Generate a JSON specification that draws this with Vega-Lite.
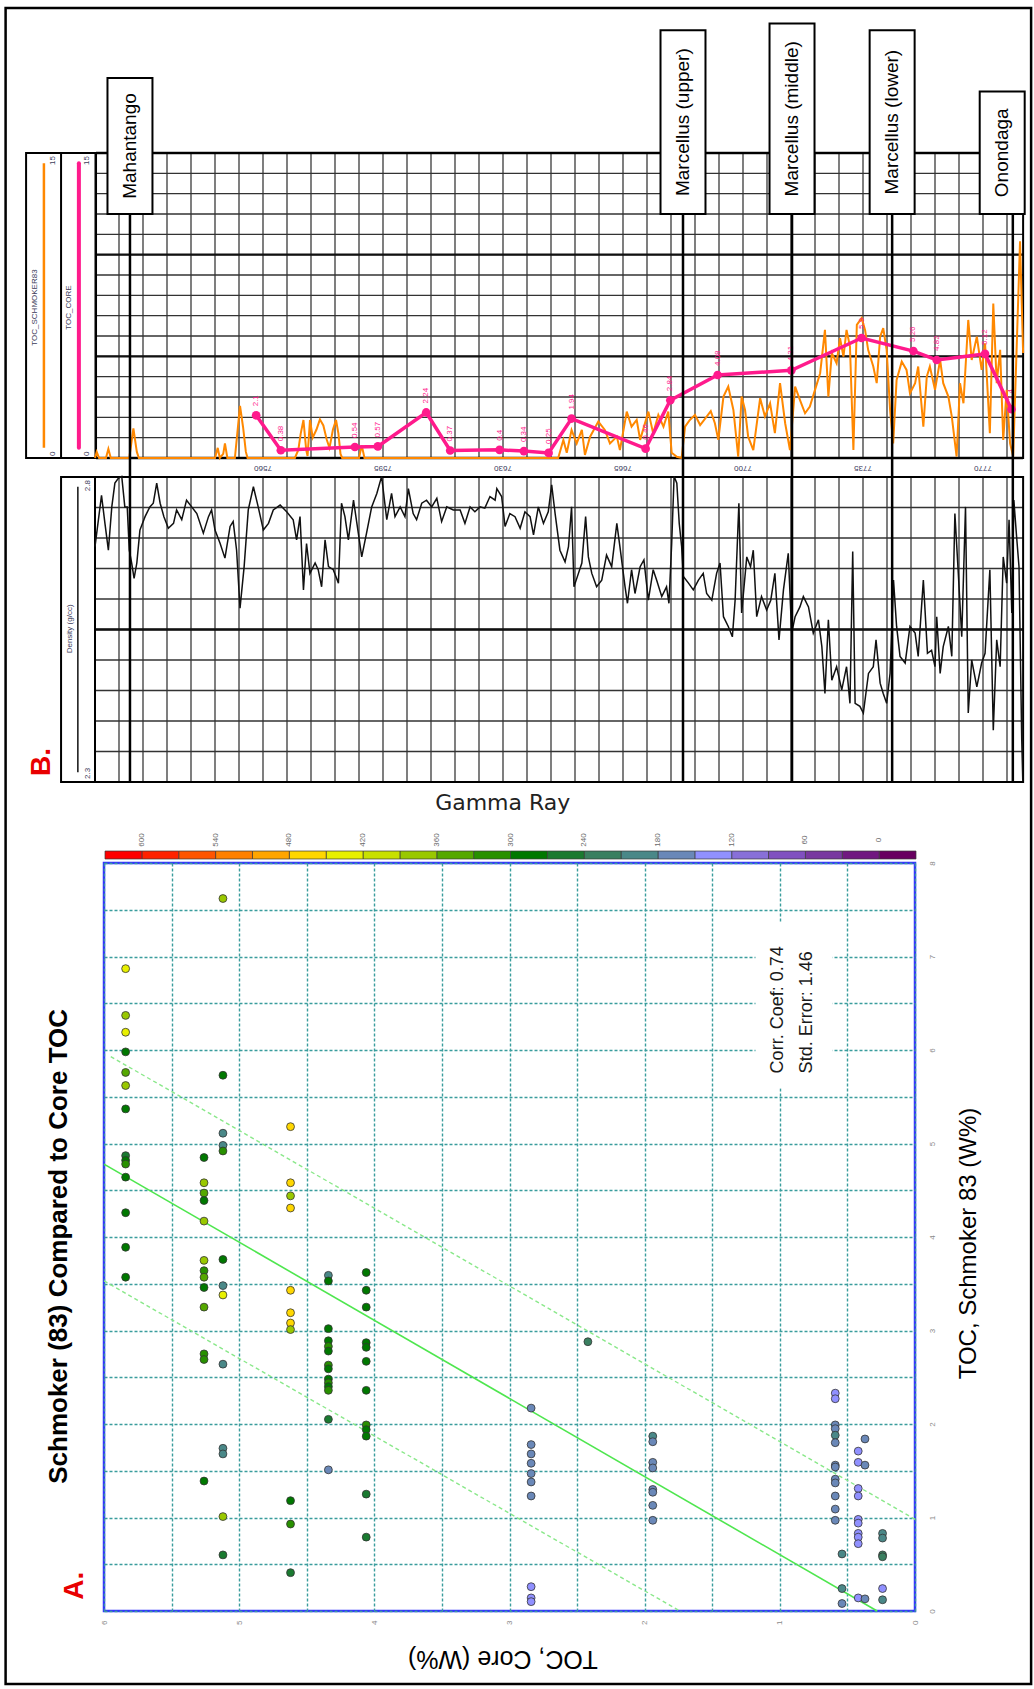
{
"$schema":"https://vega.github.io/schema/vega-lite/v6.json",
"width":811,"height":748,
"autosize":{"type":"none"},
"padding":{"left":104,"top":863,"right":119,"bottom":78},
"background":"white",
"config":{"font":"Liberation Sans","view":{"stroke":"#3434ff","strokeWidth":2.5}},
"datasets":{
"pts":[
{"core":5.12,"sch":7.62,"gr":375},{"core":5.84,"sch":6.87,"gr":435},{"core":5.84,"sch":6.37,"gr":375},{"core":5.84,"sch":6.19,"gr":435},{"core":5.84,"sch":5.98,"gr":285},{"core":5.84,"sch":5.76,"gr":345},{"core":5.84,"sch":5.62,"gr":375},{"core":5.12,"sch":5.73,"gr":285},{"core":5.84,"sch":5.37,"gr":285},{"core":4.62,"sch":5.18,"gr":465},{"core":5.12,"sch":5.11,"gr":195},{"core":5.12,"sch":4.98,"gr":195},{"core":5.12,"sch":4.92,"gr":315},{"core":5.84,"sch":4.87,"gr":255},{"core":5.84,"sch":4.82,"gr":285},{"core":5.84,"sch":4.78,"gr":315},{"core":5.26,"sch":4.85,"gr":285},{"core":5.84,"sch":4.64,"gr":285},{"core":5.26,"sch":4.58,"gr":375},{"core":5.26,"sch":4.47,"gr":345},{"core":5.26,"sch":4.39,"gr":285},{"core":4.62,"sch":4.58,"gr":465},{"core":4.62,"sch":4.44,"gr":375},{"core":4.62,"sch":4.31,"gr":465},{"core":5.84,"sch":4.26,"gr":285},{"core":5.26,"sch":4.17,"gr":375},{"core":5.84,"sch":3.89,"gr":285},
{"core":5.84,"sch":3.57,"gr":285},{"core":5.26,"sch":3.75,"gr":375},{"core":5.26,"sch":3.64,"gr":315},{"core":5.26,"sch":3.57,"gr":345},{"core":5.26,"sch":3.46,"gr":285},{"core":5.26,"sch":3.25,"gr":345},{"core":5.12,"sch":3.76,"gr":285},{"core":5.12,"sch":3.48,"gr":195},{"core":5.12,"sch":3.38,"gr":435},{"core":5.26,"sch":2.75,"gr":315},{"core":5.26,"sch":2.69,"gr":315},{"core":5.12,"sch":2.64,"gr":195},{"core":5.12,"sch":1.74,"gr":195},{"core":5.12,"sch":1.68,"gr":195},{"core":5.26,"sch":1.39,"gr":285},{"core":5.12,"sch":1.01,"gr":375},{"core":5.12,"sch":0.6,"gr":255},
{"core":4.62,"sch":3.43,"gr":465},{"core":4.62,"sch":3.19,"gr":465},{"core":4.62,"sch":3.08,"gr":465},{"core":4.62,"sch":3.01,"gr":375},{"core":4.62,"sch":1.18,"gr":285},{"core":4.62,"sch":0.93,"gr":315},{"core":4.62,"sch":0.41,"gr":255},
{"core":4.34,"sch":3.59,"gr":195},{"core":4.34,"sch":3.53,"gr":285},{"core":4.34,"sch":3.02,"gr":285},{"core":4.34,"sch":2.89,"gr":285},{"core":4.34,"sch":2.83,"gr":315},{"core":4.34,"sch":2.78,"gr":285},{"core":4.34,"sch":2.63,"gr":315},{"core":4.34,"sch":2.59,"gr":285},{"core":4.34,"sch":2.48,"gr":285},{"core":4.34,"sch":2.44,"gr":315},{"core":4.34,"sch":2.4,"gr":285},{"core":4.34,"sch":2.36,"gr":315},{"core":4.34,"sch":2.05,"gr":255},{"core":4.34,"sch":1.51,"gr":165},
{"core":4.06,"sch":3.62,"gr":285},{"core":4.06,"sch":3.43,"gr":285},{"core":4.06,"sch":3.25,"gr":285},{"core":4.06,"sch":2.87,"gr":285},{"core":4.06,"sch":2.82,"gr":285},{"core":4.06,"sch":2.67,"gr":285},{"core":4.06,"sch":2.36,"gr":285},{"core":4.06,"sch":1.99,"gr":315},{"core":4.06,"sch":1.94,"gr":285},{"core":4.06,"sch":1.87,"gr":285},{"core":4.06,"sch":1.25,"gr":255},{"core":4.06,"sch":0.79,"gr":255},
{"core":2.84,"sch":2.17,"gr":165},{"core":2.84,"sch":1.78,"gr":165},{"core":2.84,"sch":1.68,"gr":165},{"core":2.84,"sch":1.58,"gr":165},{"core":2.84,"sch":1.47,"gr":165},{"core":2.84,"sch":1.38,"gr":165},{"core":2.84,"sch":1.23,"gr":165},{"core":2.84,"sch":0.26,"gr":135},{"core":2.84,"sch":0.14,"gr":135},{"core":2.84,"sch":0.1,"gr":135},
{"core":2.42,"sch":2.88,"gr":225},{"core":1.94,"sch":1.87,"gr":195},{"core":1.94,"sch":1.81,"gr":165},{"core":1.94,"sch":1.59,"gr":165},{"core":1.94,"sch":1.53,"gr":165},{"core":1.94,"sch":1.3,"gr":165},{"core":1.94,"sch":1.27,"gr":165},{"core":1.94,"sch":1.13,"gr":165},{"core":1.94,"sch":0.97,"gr":165},
{"core":0.59,"sch":2.33,"gr":135},{"core":0.59,"sch":2.27,"gr":135},{"core":0.59,"sch":1.99,"gr":165},{"core":0.59,"sch":1.95,"gr":165},{"core":0.59,"sch":1.88,"gr":195},{"core":0.59,"sch":1.8,"gr":165},{"core":0.59,"sch":1.56,"gr":165},{"core":0.59,"sch":1.54,"gr":165},{"core":0.59,"sch":1.41,"gr":165},{"core":0.59,"sch":1.37,"gr":165},{"core":0.59,"sch":1.23,"gr":165},{"core":0.59,"sch":1.09,"gr":165},{"core":0.59,"sch":0.97,"gr":165},
{"core":0.54,"sch":0.61,"gr":195},{"core":0.54,"sch":0.24,"gr":195},{"core":0.54,"sch":0.08,"gr":165},{"core":0.42,"sch":1.71,"gr":135},{"core":0.42,"sch":1.59,"gr":135},{"core":0.37,"sch":1.84,"gr":165},{"core":0.37,"sch":1.56,"gr":165},{"core":0.42,"sch":1.31,"gr":135},{"core":0.42,"sch":1.23,"gr":135},{"core":0.42,"sch":0.98,"gr":135},{"core":0.42,"sch":0.94,"gr":135},{"core":0.42,"sch":0.83,"gr":135},{"core":0.42,"sch":0.79,"gr":135},{"core":0.42,"sch":0.72,"gr":135},{"core":0.42,"sch":0.14,"gr":135},{"core":0.37,"sch":0.13,"gr":165},
{"core":0.24,"sch":0.83,"gr":195},{"core":0.24,"sch":0.78,"gr":195},{"core":0.24,"sch":0.6,"gr":225},{"core":0.24,"sch":0.58,"gr":225},{"core":0.24,"sch":0.24,"gr":135},{"core":0.24,"sch":0.12,"gr":195}
],
"fit":[{"kind":"fit","core":0.28,"sch":0},{"kind":"fit","core":6,"sch":4.78},{"kind":"upper","core":0,"sch":0.98},{"kind":"upper","core":5.95,"sch":5.93},{"kind":"lower","core":1.74,"sch":0},{"kind":"lower","core":6,"sch":3.53}],
"cells":[{"lo":-30,"hi":0},{"lo":0,"hi":30},{"lo":30,"hi":60},{"lo":60,"hi":90},{"lo":90,"hi":120},{"lo":120,"hi":150},{"lo":150,"hi":180},{"lo":180,"hi":210},{"lo":210,"hi":240},{"lo":240,"hi":270},{"lo":270,"hi":300},{"lo":300,"hi":330},{"lo":330,"hi":360},{"lo":360,"hi":390},{"lo":390,"hi":420},{"lo":420,"hi":450},{"lo":450,"hi":480},{"lo":480,"hi":510},{"lo":510,"hi":540},{"lo":540,"hi":570},{"lo":570,"hi":600},{"lo":600,"hi":630}],
"schm":[
{"depth":7511.0,"toc":0},{"depth":7511.5,"toc":0.3},{"depth":7512.2,"toc":0},{"depth":7514.2,"toc":0},{"depth":7514.9,"toc":0.45},{"depth":7515.6,"toc":0},{"depth":7521.0,"toc":0},{"depth":7522.2,"toc":1.46},{"depth":7523.2,"toc":0.3},{"depth":7523.8,"toc":0},{"depth":7546.0,"toc":0},{"depth":7546.8,"toc":0.5},{"depth":7547.4,"toc":0},{"depth":7548.4,"toc":0.2},{"depth":7548.9,"toc":0.72},{"depth":7549.6,"toc":0},{"depth":7551.8,"toc":0},{"depth":7552.5,"toc":1.2},{"depth":7553.3,"toc":2.56},{"depth":7554.2,"toc":1.5},{"depth":7555.0,"toc":0.3},{"depth":7555.5,"toc":0},{"depth":7569.3,"toc":0},{"depth":7570.3,"toc":0.4},{"depth":7571.0,"toc":1.2},{"depth":7571.8,"toc":1.87},{"depth":7572.6,"toc":0.4},{"depth":7573.0,"toc":0.1},{"depth":7573.7,"toc":1.87},{"depth":7574.5,"toc":1.0},{"depth":7575.6,"toc":1.4},{"depth":7576.6,"toc":1.9},{"depth":7577.6,"toc":1.6},{"depth":7578.6,"toc":0.9},{"depth":7579.4,"toc":0.5},{"depth":7580.4,"toc":1.4},{"depth":7581.3,"toc":1.87},{"depth":7582.0,"toc":1.2},{"depth":7582.6,"toc":0.2},{"depth":7583.1,"toc":0},{"depth":7588.0,"toc":0},{"depth":7588.8,"toc":0.62},{"depth":7589.6,"toc":0},
{"depth":7646.1,"toc":0},{"depth":7647.6,"toc":0.89},{"depth":7648.6,"toc":0.26},{"depth":7650.0,"toc":1.38},{"depth":7651.5,"toc":0.72},{"depth":7653.0,"toc":1.38},{"depth":7653.9,"toc":0.15},{"depth":7655.4,"toc":1.05},{"depth":7657.8,"toc":1.79},{"depth":7659.7,"toc":1.38},{"depth":7661.2,"toc":0.72},{"depth":7663.2,"toc":1.05},{"depth":7664.1,"toc":0.39},{"depth":7666.1,"toc":2.28},{"depth":7667.5,"toc":1.54},{"depth":7669.0,"toc":1.87},{"depth":7670.0,"toc":0.89},{"depth":7672.4,"toc":2.28},{"depth":7673.8,"toc":1.21},{"depth":7675.3,"toc":2.12},{"depth":7676.8,"toc":1.54},{"depth":7678.2,"toc":2.28},{"depth":7679.2,"toc":0.26},{"depth":7680.7,"toc":0.06},{"depth":7682.1,"toc":0},{"depth":7683.1,"toc":1.54},{"depth":7684.5,"toc":1.87},{"depth":7686.0,"toc":2.12},{"depth":7687.5,"toc":1.62},{"depth":7689.4,"toc":2.03},{"depth":7690.6,"toc":2.3},{"depth":7691.8,"toc":1.71},{"depth":7692.8,"toc":0.89},{"depth":7694.3,"toc":3.02},{"depth":7695.7,"toc":3.51},{"depth":7697.2,"toc":2.36},{"depth":7698.6,"toc":0.07},{"depth":7699.6,"toc":3.02},{"depth":7700.6,"toc":2.36},{"depth":7701.5,"toc":1.05},{"depth":7703.0,"toc":0.39},{"depth":7705.0,"toc":2.94},{"depth":7706.4,"toc":2.04},{"depth":7707.9,"toc":2.69},{"depth":7709.3,"toc":1.22},{"depth":7710.8,"toc":3.68},{"depth":7712.3,"toc":1.71},{"depth":7713.7,"toc":0.39},{"depth":7715.2,"toc":3.51},{"depth":7716.6,"toc":2.86},{"depth":7718.1,"toc":2.2},{"depth":7719.5,"toc":2.53},{"depth":7721.0,"toc":3.35},{"depth":7722.5,"toc":4.17},{"depth":7723.9,"toc":6.3},{"depth":7724.9,"toc":3.02},{"depth":7725.9,"toc":5.16},{"depth":7727.3,"toc":4.66},{"depth":7728.3,"toc":5.89},{"depth":7729.3,"toc":4.99},{"depth":7730.2,"toc":6.3},{"depth":7731.2,"toc":5.48},{"depth":7732.2,"toc":0.39},{"depth":7733.2,"toc":6.55},{"depth":7734.6,"toc":6.88},{"depth":7735.6,"toc":6.3},{"depth":7736.5,"toc":5.32},{"depth":7738.0,"toc":4.5},{"depth":7739.0,"toc":3.68},{"depth":7740.0,"toc":5.97},{"depth":7740.9,"toc":6.39},{"depth":7741.9,"toc":5.32},{"depth":7742.9,"toc":2.36},{"depth":7743.8,"toc":0.72},{"depth":7744.8,"toc":3.84},{"depth":7746.3,"toc":4.74},{"depth":7747.7,"toc":4.33},{"depth":7748.7,"toc":3.18},{"depth":7750.2,"toc":3.68},{"depth":7751.1,"toc":4.5},{"depth":7752.6,"toc":1.54},{"depth":7753.6,"toc":4.0},{"depth":7754.5,"toc":4.5},{"depth":7756.0,"toc":3.35},{"depth":7757.5,"toc":4.82},{"depth":7758.4,"toc":3.68},{"depth":7759.9,"toc":3.02},{"depth":7760.9,"toc":2.04},{"depth":7762.3,"toc":0.07},{"depth":7763.3,"toc":3.68},{"depth":7764.3,"toc":2.69},{"depth":7765.7,"toc":6.79},{"depth":7766.7,"toc":4.82},{"depth":7768.2,"toc":5.97},{"depth":7769.6,"toc":4.33},{"depth":7770.6,"toc":5.64},{"depth":7772.0,"toc":1.22},{"depth":7773.0,"toc":7.6},{"depth":7774.0,"toc":3.68},{"depth":7775.0,"toc":5.32},{"depth":7775.9,"toc":0.89},{"depth":7776.9,"toc":3.35},{"depth":7777.9,"toc":0.72},{"depth":7778.8,"toc":0.07},{"depth":7779.8,"toc":5.32},{"depth":7780.8,"toc":10.66},{"depth":7781.7,"toc":5.16}
],
"core":[{"depth":7558.0,"toc":2.1},{"depth":7565.2,"toc":0.38},{"depth":7586.8,"toc":0.54},{"depth":7593.5,"toc":0.57},{"depth":7607.6,"toc":2.24},{"depth":7614.6,"toc":0.37},{"depth":7629.0,"toc":0.4},{"depth":7636.1,"toc":0.34},{"depth":7643.3,"toc":0.25},{"depth":7650.0,"toc":1.94},{"depth":7671.6,"toc":0.46},{"depth":7678.8,"toc":2.84},{"depth":7692.6,"toc":4.08},{"depth":7714.1,"toc":4.31},{"depth":7734.6,"toc":5.9},{"depth":7749.7,"toc":5.26},{"depth":7756.5,"toc":4.82},{"depth":7770.6,"toc":5.12},{"depth":7778.3,"toc":2.4}],
"dens":[
{"depth":7511.0,"rho":2.686},{"depth":7512.0,"rho":2.73},{"depth":7512.9,"rho":2.77},{"depth":7513.9,"rho":2.724},{"depth":7514.9,"rho":2.68},{"depth":7515.9,"rho":2.751},{"depth":7516.8,"rho":2.79},{"depth":7517.8,"rho":2.798},{"depth":7518.8,"rho":2.801},{"depth":7519.7,"rho":2.751},{"depth":7520.4,"rho":2.751},{"depth":7521.0,"rho":2.68},{"depth":7521.7,"rho":2.659},{"depth":7522.4,"rho":2.634},{"depth":7523.2,"rho":2.659},{"depth":7524.1,"rho":2.713},{"depth":7525.6,"rho":2.735},{"depth":7527.0,"rho":2.751},{"depth":7528.0,"rho":2.757},{"depth":7529.0,"rho":2.79},{"depth":7530.0,"rho":2.757},{"depth":7531.1,"rho":2.735},{"depth":7532.4,"rho":2.716},{"depth":7533.9,"rho":2.724},{"depth":7534.8,"rho":2.746},{"depth":7536.3,"rho":2.73},{"depth":7537.7,"rho":2.762},{"depth":7539.2,"rho":2.751},{"depth":7540.7,"rho":2.74},{"depth":7542.6,"rho":2.708},{"depth":7544.1,"rho":2.735},{"depth":7545.0,"rho":2.746},{"depth":7546.0,"rho":2.713},{"depth":7547.5,"rho":2.691},{"depth":7548.9,"rho":2.667},{"depth":7550.4,"rho":2.719},{"depth":7551.3,"rho":2.727},{"depth":7552.3,"rho":2.68},{"depth":7553.3,"rho":2.585},{"depth":7554.5,"rho":2.653},{"depth":7555.7,"rho":2.746},{"depth":7557.2,"rho":2.784},{"depth":7558.6,"rho":2.751},{"depth":7560.1,"rho":2.713},{"depth":7561.6,"rho":2.724},{"depth":7563.0,"rho":2.746},{"depth":7565.0,"rho":2.754},{"depth":7566.9,"rho":2.743},{"depth":7568.8,"rho":2.73},{"depth":7569.8,"rho":2.697},{"depth":7570.8,"rho":2.735},{"depth":7571.8,"rho":2.615},{"depth":7572.7,"rho":2.691},{"depth":7573.7,"rho":2.642},{"depth":7575.2,"rho":2.659},{"depth":7576.1,"rho":2.648},{"depth":7577.1,"rho":2.62},{"depth":7578.1,"rho":2.697},{"depth":7579.1,"rho":2.653},{"depth":7580.5,"rho":2.648},{"depth":7582.0,"rho":2.626},{"depth":7582.9,"rho":2.757},{"depth":7583.9,"rho":2.735},{"depth":7584.9,"rho":2.697},{"depth":7586.4,"rho":2.762},{"depth":7587.8,"rho":2.708},{"depth":7588.8,"rho":2.669},{"depth":7590.2,"rho":2.708},{"depth":7591.7,"rho":2.751},{"depth":7593.2,"rho":2.773},{"depth":7594.6,"rho":2.801},{"depth":7596.1,"rho":2.73},{"depth":7597.5,"rho":2.773},{"depth":7598.5,"rho":2.735},{"depth":7600.0,"rho":2.751},{"depth":7601.4,"rho":2.735},{"depth":7602.4,"rho":2.781},{"depth":7603.8,"rho":2.74},{"depth":7604.8,"rho":2.73},{"depth":7606.3,"rho":2.757},{"depth":7607.7,"rho":2.762},{"depth":7609.2,"rho":2.751},{"depth":7610.7,"rho":2.765},{"depth":7612.1,"rho":2.727},{"depth":7613.6,"rho":2.751},{"depth":7615.5,"rho":2.746},{"depth":7617.5,"rho":2.746},{"depth":7618.9,"rho":2.724},{"depth":7620.4,"rho":2.751},{"depth":7621.8,"rho":2.743},{"depth":7623.3,"rho":2.751},{"depth":7624.7,"rho":2.749},{"depth":7626.2,"rho":2.768},{"depth":7627.7,"rho":2.762},{"depth":7628.2,"rho":2.781},{"depth":7629.6,"rho":2.768},{"depth":7630.6,"rho":2.719},{"depth":7632.0,"rho":2.74},{"depth":7633.5,"rho":2.735},{"depth":7635.0,"rho":2.716},{"depth":7636.4,"rho":2.743},{"depth":7637.9,"rho":2.735},{"depth":7638.9,"rho":2.705},{"depth":7640.3,"rho":2.751},{"depth":7641.8,"rho":2.724},{"depth":7643.2,"rho":2.743},{"depth":7644.2,"rho":2.787},{"depth":7645.2,"rho":2.74},
{"depth":7646.6,"rho":2.68},{"depth":7648.1,"rho":2.661},{"depth":7649.1,"rho":2.686},{"depth":7650.0,"rho":2.751},{"depth":7650.7,"rho":2.62},{"depth":7652.0,"rho":2.642},{"depth":7653.0,"rho":2.659},{"depth":7654.1,"rho":2.735},{"depth":7654.9,"rho":2.669},{"depth":7655.9,"rho":2.642},{"depth":7657.3,"rho":2.62},{"depth":7658.8,"rho":2.631},{"depth":7660.2,"rho":2.672},{"depth":7661.7,"rho":2.653},{"depth":7663.2,"rho":2.724},{"depth":7664.1,"rho":2.686},{"depth":7665.6,"rho":2.62},{"depth":7666.3,"rho":2.593},{"depth":7667.5,"rho":2.648},{"depth":7668.5,"rho":2.609},{"depth":7670.0,"rho":2.653},{"depth":7671.1,"rho":2.664},{"depth":7672.4,"rho":2.598},{"depth":7673.8,"rho":2.648},{"depth":7674.8,"rho":2.631},{"depth":7676.3,"rho":2.604},{"depth":7677.7,"rho":2.62},{"depth":7678.4,"rho":2.593},{"depth":7679.2,"rho":2.691},{"depth":7679.9,"rho":2.801},{"depth":7680.7,"rho":2.79},{"depth":7681.4,"rho":2.724},{"depth":7682.1,"rho":2.686},{"depth":7682.6,"rho":2.637},{"depth":7684.1,"rho":2.626},{"depth":7685.5,"rho":2.615},{"depth":7687.0,"rho":2.631},{"depth":7688.4,"rho":2.642},{"depth":7689.4,"rho":2.609},{"depth":7690.9,"rho":2.598},{"depth":7692.3,"rho":2.642},{"depth":7693.3,"rho":2.659},{"depth":7694.3,"rho":2.571},{"depth":7695.7,"rho":2.555},{"depth":7696.9,"rho":2.538},{"depth":7697.7,"rho":2.598},{"depth":7698.8,"rho":2.757},{"depth":7699.6,"rho":2.577},{"depth":7701.1,"rho":2.669},{"depth":7702.2,"rho":2.653},{"depth":7703.0,"rho":2.68},{"depth":7704.0,"rho":2.571},{"depth":7705.4,"rho":2.604},{"depth":7706.9,"rho":2.582},{"depth":7708.1,"rho":2.598},{"depth":7709.3,"rho":2.642},{"depth":7710.5,"rho":2.533},{"depth":7711.8,"rho":2.615},{"depth":7713.2,"rho":2.675},{"depth":7714.2,"rho":2.544},{"depth":7715.2,"rho":2.571},{"depth":7716.6,"rho":2.587},{"depth":7717.6,"rho":2.604},{"depth":7719.1,"rho":2.587},{"depth":7720.5,"rho":2.544},{"depth":7722.0,"rho":2.566},{"depth":7723.0,"rho":2.522},{"depth":7723.9,"rho":2.445},{"depth":7724.9,"rho":2.566},{"depth":7725.9,"rho":2.467},{"depth":7727.3,"rho":2.489},{"depth":7728.8,"rho":2.451},{"depth":7730.2,"rho":2.489},{"depth":7731.2,"rho":2.429},{"depth":7732.0,"rho":2.678},{"depth":7732.7,"rho":2.429},{"depth":7734.1,"rho":2.424},{"depth":7735.1,"rho":2.413},{"depth":7736.6,"rho":2.478},{"depth":7738.0,"rho":2.489},{"depth":7738.8,"rho":2.533},{"depth":7740.0,"rho":2.462},{"depth":7740.9,"rho":2.445},{"depth":7741.9,"rho":2.429},{"depth":7742.9,"rho":2.478},{"depth":7743.9,"rho":2.631},{"depth":7744.8,"rho":2.555},{"depth":7745.8,"rho":2.506},{"depth":7747.3,"rho":2.495},{"depth":7748.7,"rho":2.555},{"depth":7750.2,"rho":2.544},{"depth":7751.1,"rho":2.506},{"depth":7752.6,"rho":2.631},{"depth":7753.8,"rho":2.511},{"depth":7755.0,"rho":2.516},{"depth":7756.0,"rho":2.489},{"depth":7756.5,"rho":2.571},{"depth":7757.5,"rho":2.478},{"depth":7758.4,"rho":2.522},{"depth":7759.9,"rho":2.555},{"depth":7760.9,"rho":2.506},{"depth":7761.8,"rho":2.74},{"depth":7762.8,"rho":2.642},{"depth":7763.8,"rho":2.538},{"depth":7764.9,"rho":2.751},{"depth":7765.7,"rho":2.413},{"depth":7766.7,"rho":2.5},{"depth":7768.2,"rho":2.456},{"depth":7769.6,"rho":2.495},{"depth":7770.6,"rho":2.511},{"depth":7772.0,"rho":2.648},{"depth":7773.0,"rho":2.385},{"depth":7774.0,"rho":2.533},{"depth":7775.0,"rho":2.489},{"depth":7775.9,"rho":2.669},{"depth":7776.9,"rho":2.626},{"depth":7777.6,"rho":2.73},{"depth":7778.4,"rho":2.577},{"depth":7779.0,"rho":2.762},{"depth":7779.8,"rho":2.702},{"depth":7780.5,"rho":2.653},{"depth":7781.3,"rho":2.369},{"depth":7781.6,"rho":2.303}
],
"tops":[{"name":"Mahantango","depth":7521.2},{"name":"Marcellus (upper)","depth":7682.5},{"name":"Marcellus (middle)","depth":7714.3},{"name":"Marcellus (lower)","depth":7743.5},{"name":"Onondaga","depth":7778.7}],
"dgrid":[{"d":7511},{"d":7518},{"d":7525},{"d":7532},{"d":7539},{"d":7546},{"d":7553},{"d":7560},{"d":7567},{"d":7574},{"d":7581},{"d":7588},{"d":7595},{"d":7602},{"d":7609},{"d":7616},{"d":7623},{"d":7630},{"d":7637},{"d":7644},{"d":7651},{"d":7658},{"d":7665},{"d":7672},{"d":7679},{"d":7686},{"d":7693},{"d":7700},{"d":7707},{"d":7714},{"d":7721},{"d":7728},{"d":7735},{"d":7742},{"d":7749},{"d":7756},{"d":7763},{"d":7770},{"d":7777}],
"tgrid":[{"v":0},{"v":1},{"v":2},{"v":3},{"v":4},{"v":5},{"v":6},{"v":7},{"v":8},{"v":9},{"v":10},{"v":11},{"v":12},{"v":13},{"v":14},{"v":15}],
"rgrid":[{"v":2.3},{"v":2.35},{"v":2.4},{"v":2.45},{"v":2.5},{"v":2.55},{"v":2.6},{"v":2.65},{"v":2.7},{"v":2.75},{"v":2.8}]
},
"resolve":{"scale":{"x":"independent","y":"independent","color":"independent"}},
"layer":[
 {"data":{"values":[{"a":1.18,"b":0.61,"c":7.37,"e":5.59}]},"mark":{"type":"rect","fill":"white"},"encoding":{"x":{"field":"a","type":"quantitative","scale":{"domain":[0,6],"range":[811,0],"nice":false},"axis":null},"x2":{"field":"b"},"y":{"field":"c","type":"quantitative","scale":{"domain":[0,8],"range":[748,0],"nice":false},"axis":null},"y2":{"field":"e"}}},
 {"data":{"name":"fit"},"transform":[{"filter":"datum.kind !== 'fit'"}],"mark":{"type":"line","stroke":"#8ae88a","strokeWidth":1.4,"strokeDash":[4,3]},"encoding":{"x":{"field":"core","type":"quantitative","scale":{"domain":[0,6],"range":[811,0],"nice":false},"axis":null},"y":{"field":"sch","type":"quantitative","scale":{"domain":[0,8],"range":[748,0],"nice":false},"axis":null},"detail":{"field":"kind","type":"nominal"}}},
 {"data":{"name":"fit"},"transform":[{"filter":"datum.kind === 'fit'"}],"mark":{"type":"line","stroke":"#4fe64f","strokeWidth":1.6},"encoding":{"x":{"field":"core","type":"quantitative","scale":{"domain":[0,6],"range":[811,0],"nice":false},"axis":null},"y":{"field":"sch","type":"quantitative","scale":{"domain":[0,8],"range":[748,0],"nice":false},"axis":null}}},
 {"data":{"name":"pts"},"mark":{"type":"circle","size":62,"opacity":1,"stroke":"#333333","strokeWidth":0.8},"encoding":{
   "x":{"field":"core","type":"quantitative","scale":{"domain":[0,6],"range":[811,0],"nice":false},"axis":{"orient":"bottom","values":[0,0.5,1,1.5,2,2.5,3,3.5,4,4.5,5,5.5,6],"grid":true,"gridColor":"#3a9d9d","gridDash":[3,2],"gridWidth":1.4,"ticks":false,"domain":false,"labelExpr":"datum.value % 1 === 0 ? format(datum.value, 'd') : ''","labelAngle":270,"labelFontSize":8,"labelColor":"#8a8a8a","labelPadding":9,"title":null}},
   "y":{"field":"sch","type":"quantitative","scale":{"domain":[0,8],"range":[748,0],"nice":false},"axis":{"orient":"right","values":[0,0.5,1,1.5,2,2.5,3,3.5,4,4.5,5,5.5,6,6.5,7,7.5,8],"grid":true,"gridColor":"#3a9d9d","gridDash":[3,2],"gridWidth":1.4,"ticks":false,"domain":false,"labelExpr":"datum.value % 1 === 0 ? format(datum.value, 'd') : ''","labelAngle":270,"labelFontSize":8,"labelColor":"#8a8a8a","labelPadding":13,"title":null}},
   "color":{"field":"gr","type":"quantitative","scale":{"type":"threshold","domain":[0,30,60,90,120,150,180,210,240,270,300,330,360,390,420,450,480,510,540,570,600],"range":["#680060","#701880","#7838a0","#8050c0","#8870d8","#9090ff","#6a88b8","#4a8888","#3a7f60","#1a7a30","#007800","#289000","#55a800","#99c800","#c8e000","#e8f000","#ffd700","#ffa500","#ff8000","#ff5500","#ff2200","#ff0000"]},"legend":null}}},
 {"data":{"values":[{"a":1.01,"c":5.75}]},"mark":{"type":"text","text":"Corr. Coef:  0.74","angle":270,"align":"left","baseline":"middle","fontSize":18,"fill":"#1a1a1a"},"encoding":{"x":{"field":"a","type":"quantitative","scale":{"domain":[0,6],"range":[811,0],"nice":false},"axis":null},"y":{"field":"c","type":"quantitative","scale":{"domain":[0,8],"range":[748,0],"nice":false},"axis":null}}},
 {"data":{"values":[{"a":0.8,"c":5.75}]},"mark":{"type":"text","text":"Std. Error:  1.46","angle":270,"align":"left","baseline":"middle","fontSize":18,"fill":"#1a1a1a"},"encoding":{"x":{"field":"a","type":"quantitative","scale":{"domain":[0,6],"range":[811,0],"nice":false},"axis":null},"y":{"field":"c","type":"quantitative","scale":{"domain":[0,8],"range":[748,0],"nice":false},"axis":null}}},
 {"data":{"values":[{"a":6.336,"c":3.9}]},"mark":{"type":"text","text":"Schmoker (83) Compared to Core TOC","angle":270,"align":"center","baseline":"middle","fontSize":26,"fontWeight":"bold","fill":"#000000"},"encoding":{"x":{"field":"a","type":"quantitative","scale":{"domain":[0,6],"range":[811,0],"nice":false},"axis":null},"y":{"field":"c","type":"quantitative","scale":{"domain":[0,8],"range":[748,0],"nice":false},"axis":null}}},
 {"data":{"values":[{"a":6.218,"c":0.27}]},"mark":{"type":"text","text":"A.","angle":270,"align":"center","baseline":"middle","fontSize":28,"fontWeight":"bold","fill":"#e80000"},"encoding":{"x":{"field":"a","type":"quantitative","scale":{"domain":[0,6],"range":[811,0],"nice":false},"axis":null},"y":{"field":"c","type":"quantitative","scale":{"domain":[0,8],"range":[748,0],"nice":false},"axis":null}}},
 {"data":{"values":[{"a":6.455,"c":9.08}]},"mark":{"type":"text","text":"B.","angle":270,"align":"center","baseline":"middle","fontSize":28,"fontWeight":"bold","fill":"#e80000"},"encoding":{"x":{"field":"a","type":"quantitative","scale":{"domain":[0,6],"range":[811,0],"nice":false},"axis":null},"y":{"field":"c","type":"quantitative","scale":{"domain":[0,8],"range":[748,0],"nice":false},"axis":null}}},
 {"data":{"values":[{"a":3.05,"c":8.642}]},"mark":{"type":"text","text":"Gamma Ray","align":"center","baseline":"middle","fontSize":22,"font":"DejaVu Sans","fill":"#222222"},"encoding":{"x":{"field":"a","type":"quantitative","scale":{"domain":[0,6],"range":[811,0],"nice":false},"axis":null},"y":{"field":"c","type":"quantitative","scale":{"domain":[0,8],"range":[748,0],"nice":false},"axis":null}}},
 {"data":{"values":[{"a":-0.4,"c":3.93}]},"mark":{"type":"text","text":"TOC, Schmoker 83 (W%)","angle":270,"align":"center","baseline":"middle","fontSize":24,"fill":"#000000"},"encoding":{"x":{"field":"a","type":"quantitative","scale":{"domain":[0,6],"range":[811,0],"nice":false},"axis":null},"y":{"field":"c","type":"quantitative","scale":{"domain":[0,8],"range":[748,0],"nice":false},"axis":null}}},
 {"data":{"values":[{"a":3.05,"c":-0.513}]},"mark":{"type":"text","text":"TOC, Core (W%)","angle":180,"align":"center","baseline":"middle","fontSize":25,"fill":"#000000"},"encoding":{"x":{"field":"a","type":"quantitative","scale":{"domain":[0,6],"range":[811,0],"nice":false},"axis":null},"y":{"field":"c","type":"quantitative","scale":{"domain":[0,8],"range":[748,0],"nice":false},"axis":null}}},
 {"data":{"values":[{"a":6.728,"b":-0.859,"c":17.144,"e":-0.781}]},"mark":{"type":"rect","fill":"white","fillOpacity":0,"stroke":"#000000","strokeWidth":2.5},"encoding":{"x":{"field":"a","type":"quantitative","scale":{"domain":[0,6],"range":[811,0],"nice":false},"axis":null},"x2":{"field":"b"},"y":{"field":"c","type":"quantitative","scale":{"domain":[0,8],"range":[748,0],"nice":false},"axis":null},"y2":{"field":"e"}}},
 {"data":{"name":"cells"},"transform":[{"calculate":"8.043","as":"b0"},{"calculate":"8.128","as":"b1"}],"mark":{"type":"rect","stroke":"#3a3a3a","strokeWidth":0.7},"encoding":{"x":{"field":"lo","type":"quantitative","scale":{"domain":[-30,630],"range":[812,1],"nice":false},"axis":null},"x2":{"field":"hi"},"y":{"field":"b0","type":"quantitative","scale":{"domain":[0,8],"range":[748,0],"nice":false},"axis":null},"y2":{"field":"b1"},"color":{"field":"lo","type":"quantitative","scale":{"type":"threshold","domain":[0,30,60,90,120,150,180,210,240,270,300,330,360,390,420,450,480,510,540,570,600],"range":["#680060","#701880","#7838a0","#8050c0","#8870d8","#9090ff","#6a88b8","#4a8888","#3a7f60","#1a7a30","#007800","#289000","#55a800","#99c800","#c8e000","#e8f000","#ffd700","#ffa500","#ff8000","#ff5500","#ff2200","#ff0000"]},"legend":null}}},
 {"data":{"name":"cells"},"transform":[{"filter":"datum.lo >= 0 && datum.lo % 60 === 0"},{"calculate":"8.246","as":"ly"}],"mark":{"type":"text","angle":270,"align":"center","baseline":"middle","fontSize":8,"fill":"#6a6a6a"},"encoding":{"x":{"field":"lo","type":"quantitative","scale":{"domain":[-30,630],"range":[812,1],"nice":false},"axis":null},"y":{"field":"ly","type":"quantitative","scale":{"domain":[0,8],"range":[748,0],"nice":false},"axis":null},"text":{"field":"lo","type":"quantitative"}}},
 {"data":{"name":"dgrid"},"transform":[{"calculate":"0","as":"y0"},{"calculate":"15","as":"y1"}],"mark":{"type":"rule","stroke":"#3a3a3a","strokeWidth":1.3},"encoding":{"x":{"field":"d","type":"quantitative","scale":{"domain":[7560,7770],"range":[159,879],"nice":false},"axis":null},"y":{"field":"y0","type":"quantitative","scale":{"domain":[0,15],"range":[-405,-710],"nice":false},"axis":null},"y2":{"field":"y1"}}},
 {"data":{"name":"tgrid"},"transform":[{"calculate":"7511.3","as":"x0"},{"calculate":"7781.7","as":"x1"}],"mark":{"type":"rule","stroke":"#333333","strokeWidth":1.3},"encoding":{"y":{"field":"v","type":"quantitative","scale":{"domain":[0,15],"range":[-405,-710],"nice":false},"axis":null},"x":{"field":"x0","type":"quantitative","scale":{"domain":[7560,7770],"range":[159,879],"nice":false},"axis":null},"x2":{"field":"x1"}}},
 {"data":{"name":"tgrid"},"transform":[{"filter":"datum.v % 5 === 0"},{"calculate":"7511.3","as":"x0"},{"calculate":"7781.7","as":"x1"}],"mark":{"type":"rule","stroke":"#111111","strokeWidth":2.4},"encoding":{"y":{"field":"v","type":"quantitative","scale":{"domain":[0,15],"range":[-405,-710],"nice":false},"axis":null},"x":{"field":"x0","type":"quantitative","scale":{"domain":[7560,7770],"range":[159,879],"nice":false},"axis":null},"x2":{"field":"x1"}}},
 {"data":{"values":[{"a":7490.9,"b":7781.7,"c":0,"e":15}]},"mark":{"type":"rect","fill":"white","fillOpacity":0,"stroke":"#000000","strokeWidth":2},"encoding":{"x":{"field":"a","type":"quantitative","scale":{"domain":[7560,7770],"range":[159,879],"nice":false},"axis":null},"x2":{"field":"b"},"y":{"field":"c","type":"quantitative","scale":{"domain":[0,15],"range":[-405,-710],"nice":false},"axis":null},"y2":{"field":"e"}}},
 {"data":{"values":[{"a":7501.1,"c":0,"e":15},{"a":7511.3,"c":0,"e":15}]},"mark":{"type":"rule","stroke":"#000000","strokeWidth":2},"encoding":{"x":{"field":"a","type":"quantitative","scale":{"domain":[7560,7770],"range":[159,879],"nice":false},"axis":null},"y":{"field":"c","type":"quantitative","scale":{"domain":[0,15],"range":[-405,-710],"nice":false},"axis":null},"y2":{"field":"e"}}},
 {"data":{"values":[{"a":7496.1,"c":0.5,"e":14.5}]},"mark":{"type":"rule","stroke":"#ff8800","strokeWidth":2.5},"encoding":{"x":{"field":"a","type":"quantitative","scale":{"domain":[7560,7770],"range":[159,879],"nice":false},"axis":null},"y":{"field":"c","type":"quantitative","scale":{"domain":[0,15],"range":[-405,-710],"nice":false},"axis":null},"y2":{"field":"e"}}},
 {"data":{"values":[{"a":7506.3,"c":0.5,"e":14.5}]},"mark":{"type":"rule","stroke":"#ff1a8c","strokeWidth":4,"strokeCap":"round"},"encoding":{"x":{"field":"a","type":"quantitative","scale":{"domain":[7560,7770],"range":[159,879],"nice":false},"axis":null},"y":{"field":"c","type":"quantitative","scale":{"domain":[0,15],"range":[-405,-710],"nice":false},"axis":null},"y2":{"field":"e"}}},
 {"data":{"values":[{"a":7493.5,"c":7.4,"t":"TOC_SCHMOKER83"},{"a":7503.4,"c":7.4,"t":"TOC_CORE"}]},"mark":{"type":"text","angle":270,"align":"center","baseline":"middle","fontSize":8,"fill":"#3c3c5a"},"encoding":{"x":{"field":"a","type":"quantitative","scale":{"domain":[7560,7770],"range":[159,879],"nice":false},"axis":null},"y":{"field":"c","type":"quantitative","scale":{"domain":[0,15],"range":[-405,-710],"nice":false},"axis":null},"text":{"field":"t","type":"nominal"}}},
 {"data":{"values":[{"a":7498.75,"v":15},{"a":7508.7,"v":15}]},"mark":{"type":"text","angle":270,"align":"right","baseline":"middle","fontSize":8,"fill":"#3c3c5a","dx":-3},"encoding":{"x":{"field":"a","type":"quantitative","scale":{"domain":[7560,7770],"range":[159,879],"nice":false},"axis":null},"y":{"field":"v","type":"quantitative","scale":{"domain":[0,15],"range":[-405,-710],"nice":false},"axis":null},"text":{"field":"v","type":"quantitative"}}},
 {"data":{"values":[{"a":7498.75,"v":0},{"a":7508.7,"v":0}]},"mark":{"type":"text","angle":270,"align":"left","baseline":"middle","fontSize":8,"fill":"#3c3c5a","dx":2},"encoding":{"x":{"field":"a","type":"quantitative","scale":{"domain":[7560,7770],"range":[159,879],"nice":false},"axis":null},"y":{"field":"v","type":"quantitative","scale":{"domain":[0,15],"range":[-405,-710],"nice":false},"axis":null},"text":{"field":"v","type":"quantitative"}}},
 {"data":{"name":"schm"},"mark":{"type":"line","stroke":"#ff8800","strokeWidth":2},"encoding":{"x":{"field":"depth","type":"quantitative","scale":{"domain":[7560,7770],"range":[159,879],"nice":false},"axis":null},"y":{"field":"toc","type":"quantitative","scale":{"domain":[0,15],"range":[-405,-710],"nice":false},"axis":null}}},
 {"data":{"name":"core"},"mark":{"type":"line","stroke":"#ff1a8c","strokeWidth":3.5},"encoding":{"x":{"field":"depth","type":"quantitative","scale":{"domain":[7560,7770],"range":[159,879],"nice":false},"axis":null},"y":{"field":"toc","type":"quantitative","scale":{"domain":[0,15],"range":[-405,-710],"nice":false},"axis":null}}},
 {"data":{"name":"core"},"mark":{"type":"circle","size":75,"opacity":1,"fill":"#ff1a8c"},"encoding":{"x":{"field":"depth","type":"quantitative","scale":{"domain":[7560,7770],"range":[159,879],"nice":false},"axis":null},"y":{"field":"toc","type":"quantitative","scale":{"domain":[0,15],"range":[-405,-710],"nice":false},"axis":null}}},
 {"data":{"name":"core"},"mark":{"type":"text","angle":270,"align":"left","baseline":"middle","dx":9,"fontSize":8,"fill":"#ff1a8c"},"encoding":{"x":{"field":"depth","type":"quantitative","scale":{"domain":[7560,7770],"range":[159,879],"nice":false},"axis":null},"y":{"field":"toc","type":"quantitative","scale":{"domain":[0,15],"range":[-405,-710],"nice":false},"axis":null},"text":{"field":"toc","type":"quantitative"}}},
 {"data":{"name":"dgrid"},"transform":[{"filter":"datum.d >= 7560 && (datum.d - 7560) % 35 === 0"},{"calculate":"-0.49","as":"ly"}],"mark":{"type":"text","angle":180,"align":"center","baseline":"middle","fontSize":8,"fill":"#3b3b5c"},"encoding":{"x":{"field":"d","type":"quantitative","scale":{"domain":[7560,7770],"range":[159,879],"nice":false},"axis":null},"y":{"field":"ly","type":"quantitative","scale":{"domain":[0,15],"range":[-405,-710],"nice":false},"axis":null},"text":{"field":"d","type":"quantitative","format":"d"}}},
 {"data":{"name":"dgrid"},"transform":[{"calculate":"2.3","as":"y0"},{"calculate":"2.8","as":"y1"}],"mark":{"type":"rule","stroke":"#3a3a3a","strokeWidth":1.3},"encoding":{"x":{"field":"d","type":"quantitative","scale":{"domain":[7560,7770],"range":[159,879],"nice":false},"axis":null},"y":{"field":"y0","type":"quantitative","scale":{"domain":[2.3,2.8],"range":[-81,-386],"nice":false},"axis":null},"y2":{"field":"y1"}}},
 {"data":{"name":"rgrid"},"transform":[{"calculate":"7511.0","as":"x0"},{"calculate":"7781.7","as":"x1"}],"mark":{"type":"rule","stroke":"#333333","strokeWidth":1.3},"encoding":{"y":{"field":"v","type":"quantitative","scale":{"domain":[2.3,2.8],"range":[-81,-386],"nice":false},"axis":null},"x":{"field":"x0","type":"quantitative","scale":{"domain":[7560,7770],"range":[159,879],"nice":false},"axis":null},"x2":{"field":"x1"}}},
 {"data":{"name":"rgrid"},"transform":[{"filter":"abs(datum.v - 2.55) < 0.001"},{"calculate":"7511.0","as":"x0"},{"calculate":"7781.7","as":"x1"}],"mark":{"type":"rule","stroke":"#111111","strokeWidth":2.4},"encoding":{"y":{"field":"v","type":"quantitative","scale":{"domain":[2.3,2.8],"range":[-81,-386],"nice":false},"axis":null},"x":{"field":"x0","type":"quantitative","scale":{"domain":[7560,7770],"range":[159,879],"nice":false},"axis":null},"x2":{"field":"x1"}}},
 {"data":{"values":[{"a":7501.1,"b":7781.7,"c":2.3,"e":2.8}]},"mark":{"type":"rect","fill":"white","fillOpacity":0,"stroke":"#000000","strokeWidth":2},"encoding":{"x":{"field":"a","type":"quantitative","scale":{"domain":[7560,7770],"range":[159,879],"nice":false},"axis":null},"x2":{"field":"b"},"y":{"field":"c","type":"quantitative","scale":{"domain":[2.3,2.8],"range":[-81,-386],"nice":false},"axis":null},"y2":{"field":"e"}}},
 {"data":{"values":[{"a":7511.0,"c":2.3,"e":2.8}]},"mark":{"type":"rule","stroke":"#000000","strokeWidth":2},"encoding":{"x":{"field":"a","type":"quantitative","scale":{"domain":[7560,7770],"range":[159,879],"nice":false},"axis":null},"y":{"field":"c","type":"quantitative","scale":{"domain":[2.3,2.8],"range":[-81,-386],"nice":false},"axis":null},"y2":{"field":"e"}}},
 {"data":{"values":[{"a":7506.0,"c":2.316,"e":2.784}]},"mark":{"type":"rule","stroke":"#111111","strokeWidth":1.5},"encoding":{"x":{"field":"a","type":"quantitative","scale":{"domain":[7560,7770],"range":[159,879],"nice":false},"axis":null},"y":{"field":"c","type":"quantitative","scale":{"domain":[2.3,2.8],"range":[-81,-386],"nice":false},"axis":null},"y2":{"field":"e"}}},
 {"data":{"values":[{"a":7503.7,"c":2.551,"t":"Density (g/cc)"}]},"mark":{"type":"text","angle":270,"align":"center","baseline":"middle","fontSize":8,"fill":"#3c3c5a"},"encoding":{"x":{"field":"a","type":"quantitative","scale":{"domain":[7560,7770],"range":[159,879],"nice":false},"axis":null},"y":{"field":"c","type":"quantitative","scale":{"domain":[2.3,2.8],"range":[-81,-386],"nice":false},"axis":null},"text":{"field":"t","type":"nominal"}}},
 {"data":{"values":[{"a":7509.0,"v":2.8}]},"mark":{"type":"text","angle":270,"align":"right","baseline":"middle","fontSize":8,"fill":"#3c3c5a","dx":-3},"encoding":{"x":{"field":"a","type":"quantitative","scale":{"domain":[7560,7770],"range":[159,879],"nice":false},"axis":null},"y":{"field":"v","type":"quantitative","scale":{"domain":[2.3,2.8],"range":[-81,-386],"nice":false},"axis":null},"text":{"field":"v","type":"quantitative","format":".1f"}}},
 {"data":{"values":[{"a":7509.0,"v":2.3}]},"mark":{"type":"text","angle":270,"align":"left","baseline":"middle","fontSize":8,"fill":"#3c3c5a","dx":3},"encoding":{"x":{"field":"a","type":"quantitative","scale":{"domain":[7560,7770],"range":[159,879],"nice":false},"axis":null},"y":{"field":"v","type":"quantitative","scale":{"domain":[2.3,2.8],"range":[-81,-386],"nice":false},"axis":null},"text":{"field":"v","type":"quantitative","format":".1f"}}},
 {"data":{"name":"dens"},"mark":{"type":"line","stroke":"#111111","strokeWidth":1.5},"encoding":{"x":{"field":"depth","type":"quantitative","scale":{"domain":[7560,7770],"range":[159,879],"nice":false},"axis":null},"y":{"field":"rho","type":"quantitative","scale":{"domain":[2.3,2.8],"range":[-81,-386],"nice":false},"axis":null}}},
 {"data":{"name":"tops"},"transform":[{"calculate":"2.3","as":"y0"},{"calculate":"3.231","as":"y1"}],"mark":{"type":"rule","stroke":"#000000","strokeWidth":2.5},"encoding":{"x":{"field":"depth","type":"quantitative","scale":{"domain":[7560,7770],"range":[159,879],"nice":false},"axis":null},"y":{"field":"y0","type":"quantitative","scale":{"domain":[2.3,2.8],"range":[-81,-386],"nice":false},"axis":null},"y2":{"field":"y1"}}},
 {"data":{"name":"tops"},"transform":[{"calculate":"min(datum.depth, 7775.6)","as":"bc"},{"calculate":"datum.bc - 6.56","as":"bx0"},{"calculate":"datum.bc + 6.56","as":"bx1"},{"calculate":"12","as":"by0"},{"calculate":"12 + (68 + 6.8 * length(datum.name)) / 20.33","as":"by1"}],"mark":{"type":"rect","fill":"white","stroke":"#000000","strokeWidth":2},"encoding":{"x":{"field":"bx0","type":"quantitative","scale":{"domain":[7560,7770],"range":[159,879],"nice":false},"axis":null},"x2":{"field":"bx1"},"y":{"field":"by0","type":"quantitative","scale":{"domain":[0,15],"range":[-405,-710],"nice":false},"axis":null},"y2":{"field":"by1"}}},
 {"data":{"name":"tops"},"transform":[{"calculate":"min(datum.depth, 7775.6)","as":"bc"},{"calculate":"12 + (68 + 6.8 * length(datum.name)) / 40.66","as":"mid"}],"mark":{"type":"text","angle":270,"align":"center","baseline":"middle","fontSize":19,"fill":"#000000"},"encoding":{"x":{"field":"bc","type":"quantitative","scale":{"domain":[7560,7770],"range":[159,879],"nice":false},"axis":null},"y":{"field":"mid","type":"quantitative","scale":{"domain":[0,15],"range":[-405,-710],"nice":false},"axis":null},"text":{"field":"name","type":"nominal"}}}
]
}
